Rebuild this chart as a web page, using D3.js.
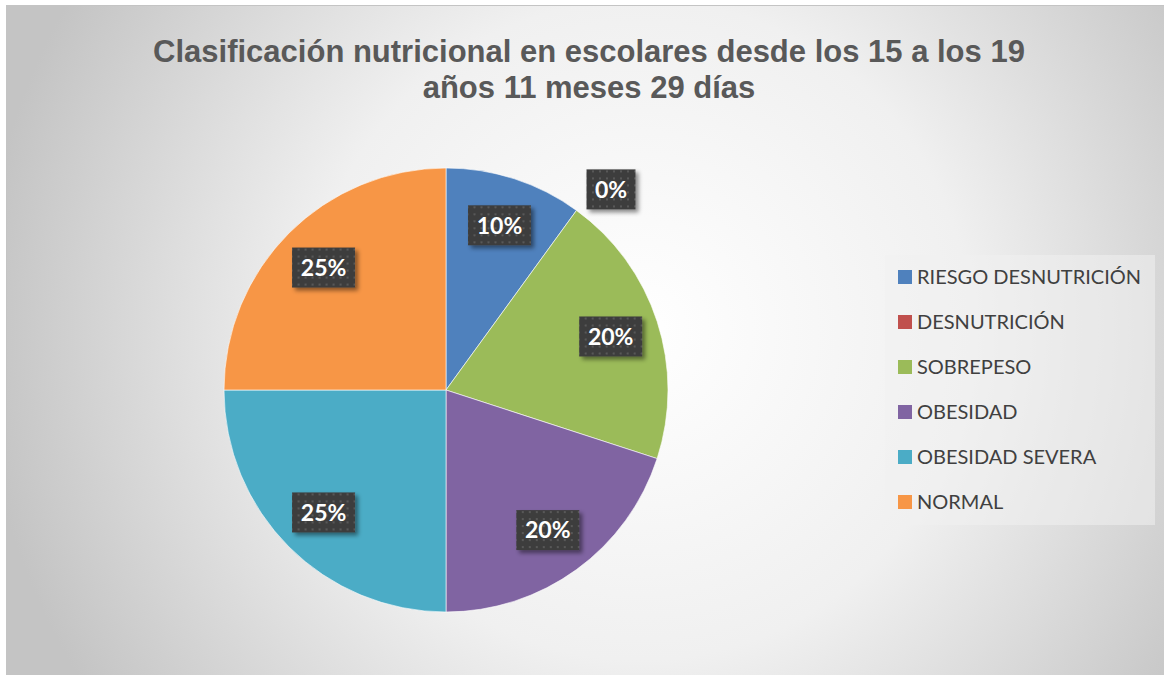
<!DOCTYPE html>
<html>
<head>
<meta charset="utf-8">
<script src="https://cdn.jsdelivr.net/npm/d3@7"></script>
<style>
  html, body { margin: 0; padding: 0; background: #fff; }
  svg { display: block; }
</style>
</head>
<body>
<div id="chart"></div>
<script>
const categories = ['RIESGO DESNUTRICIÓN', 'DESNUTRICIÓN', 'SOBREPESO', 'OBESIDAD', 'OBESIDAD SEVERA', 'NORMAL'];
const values = [10, 0, 20, 20, 25, 25];
const colors = ['#4f81bd', '#c0504d', '#9bbb59', '#8064a2', '#4bacc6', '#f79646'];
const titleLines = ['Clasificación nutricional en escolares desde los 15 a los 19', 'años 11 meses 29 días'];

const width = 1164, height = 675;
const data = categories.map((c, i) => ({ label: c, value: values[i], color: colors[i] }));

const svg = d3.select('#chart').append('svg')
  .attr('width', width)
  .attr('height', height);

const defs = svg.append('defs');

const bg = defs.append('radialGradient')
  .attr('id', 'bg')
  .attr('gradientUnits', 'userSpaceOnUse')
  .attr('cx', 640).attr('cy', 330).attr('r', 660);
bg.append('stop').attr('offset', '0%').attr('stop-color', '#ffffff');
bg.append('stop').attr('offset', '50%').attr('stop-color', '#f0f0f0');
bg.append('stop').attr('offset', '100%').attr('stop-color', '#c4c4c4');

// dotted dark fill for the data labels
const pat = defs.append('pattern')
  .attr('id', 'dots')
  .attr('patternUnits', 'userSpaceOnUse')
  .attr('width', 7).attr('height', 7);
pat.append('rect').attr('width', 7).attr('height', 7).attr('fill', '#3d3d3d');
pat.append('rect').attr('x', 2).attr('y', 2).attr('width', 2).attr('height', 2).attr('fill', '#595959');

const shadow = defs.append('filter').attr('id', 'shadow')
  .attr('x', '-20%').attr('y', '-20%').attr('width', '150%').attr('height', '160%');
shadow.append('feDropShadow')
  .attr('dx', 3).attr('dy', 3).attr('stdDeviation', 2)
  .attr('flood-color', '#000').attr('flood-opacity', 0.45);

svg.append('rect')
  .attr('x', 6.5).attr('y', 5.5)
  .attr('width', width).attr('height', height)
  .attr('fill', 'url(#bg)')
  .attr('stroke', '#c4c4c4');

// title
svg.append('text')
  .attr('text-anchor', 'middle')
  .style('font-family', '"Liberation Sans", Arial, sans-serif')
  .style('font-weight', 'bold')
  .style('font-size', '31px')
  .style('fill', '#595959')
  .selectAll('tspan')
  .data(titleLines)
  .enter().append('tspan')
  .attr('x', 589)
  .attr('y', (d, i) => 62 + i * 36)
  .text(d => d);

// pie
const cx = 446, cy = 390, radius = 222;
const g = svg.append('g').attr('transform', `translate(${cx}, ${cy})`);

const pie = d3.pie().sort(null).value(d => d.value);
const arcPath = d3.arc().innerRadius(0).outerRadius(radius);
const labelArc = d3.arc().innerRadius(radius * 0.78).outerRadius(radius * 0.78);
const outerArc = d3.arc().innerRadius(radius * 1.17).outerRadius(radius * 1.17);

const arcs = pie(data);

g.selectAll('path.slice')
  .data(arcs.filter(d => d.data.value > 0))
  .enter().append('path')
  .attr('class', 'slice')
  .attr('d', arcPath)
  .attr('fill', d => d.data.color)
  .attr('stroke', 'rgba(255,255,255,0.6)')
  .attr('stroke-width', 1);

const labels = g.selectAll('g.lbl')
  .data(arcs)
  .enter().append('g')
  .attr('class', 'lbl')
  .attr('transform', d => {
    const a = d.data.value > 0 ? labelArc.centroid(d) : outerArc.centroid({ startAngle: d.startAngle + 0.06, endAngle: d.endAngle + 0.06 });
    return `translate(${a[0]}, ${a[1]})`;
  });

labels.each(function (d) {
  const sel = d3.select(this);
  const txt = `${d.data.value}%`;
  const w = txt.length * 14 + 21;
  const h = 40;
  sel.append('rect')
    .attr('x', -w / 2).attr('y', -h / 2)
    .attr('width', w).attr('height', h)
    .attr('fill', 'url(#dots)')
    .attr('filter', 'url(#shadow)');
  sel.append('text')
    .attr('text-anchor', 'middle')
    .attr('dy', '0.36em')
    .style('font-family', 'Lato, "Open Sans", sans-serif')
    .style('font-weight', 'bold')
    .style('font-size', '23px')
    .style('fill', '#ffffff')
    .text(txt);
});

// legend
const legend = svg.append('g').attr('transform', 'translate(885, 255)');
legend.append('rect')
  .attr('width', 270).attr('height', 270)
  .attr('fill', 'rgba(240,240,240,0.55)');

const item = legend.selectAll('g.item')
  .data(data)
  .enter().append('g')
  .attr('class', 'item')
  .attr('transform', (d, i) => `translate(13, ${22 + i * 45})`);

item.append('rect')
  .attr('x', 0).attr('y', -7)
  .attr('width', 14).attr('height', 14)
  .attr('fill', d => d.color);

item.append('text')
  .attr('x', 19)
  .attr('dy', '0.35em')
  .style('font-family', 'Lato, "Open Sans", sans-serif')
  .style('font-size', '20px')
  .style('fill', '#404040')
  .text(d => d.label);
</script>
</body>
</html>
